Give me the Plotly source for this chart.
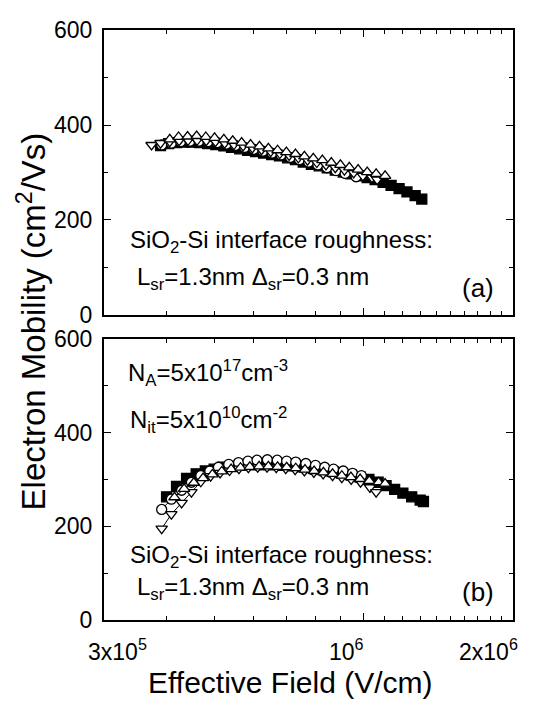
import plotly.graph_objects as go

# ---------------- data: panel (a) ----------------
a_sq_E = [3.9e5, 4.05e5, 4.2e5, 4.35e5, 4.5e5, 4.67e5, 4.85e5, 5.04e5, 5.23e5, 5.42e5, 5.63e5, 5.84e5,
          6.06e5, 6.29e5, 6.53e5, 6.77e5, 7.03e5, 7.29e5, 7.56e5, 7.85e5, 8.14e5, 8.45e5, 8.77e5, 9.10e5,
          9.44e5, 9.80e5, 1.017e6, 1.055e6, 1.095e6, 1.136e6, 1.179e6, 1.223e6, 1.27e6, 1.31e6]
a_sq_mu = [357, 361, 363, 364, 364, 363, 361, 359, 356, 353, 350, 347, 344, 341, 338, 335, 331, 327,
           322, 317, 314, 310, 305, 301, 297, 293, 289, 285, 279, 273, 266, 259, 251, 244]

a_ci_E = [3.92e5, 4.1e5, 4.28e5, 4.47e5, 4.66e5, 4.86e5, 5.07e5, 5.29e5, 5.52e5, 5.76e5, 6.01e5, 6.27e5,
          6.54e5, 6.82e5, 7.12e5, 7.43e5, 7.75e5, 8.09e5, 8.44e5, 8.80e5, 9.18e5, 9.66e5]
a_ci_mu = [358, 362, 365, 366, 366, 365, 363, 360, 357, 353, 349, 345, 341, 337, 332, 327, 322, 316,
           310, 304, 298, 291]

a_dn_E = [3.74e5, 3.9e5, 4.07e5, 4.25e5, 4.43e5, 4.62e5, 4.82e5, 5.03e5, 5.25e5, 5.48e5, 5.72e5, 5.97e5,
          6.23e5, 6.50e5, 6.78e5, 7.08e5, 7.39e5, 7.71e5, 8.05e5, 8.40e5, 8.77e5, 9.15e5, 9.55e5, 9.97e5,
          1.04e6, 1.065e6]
a_dn_mu = [358, 362, 365, 367, 368, 368, 367, 365, 362, 359, 356, 352, 348, 344, 340, 336, 331, 326,
           321, 316, 310, 305, 299, 293, 289, 285]

a_up_E = [4.07e5, 4.24e5, 4.42e5, 4.61e5, 4.81e5, 5.01e5, 5.23e5, 5.45e5, 5.68e5, 5.92e5, 6.17e5, 6.43e5,
          6.71e5, 6.99e5, 7.29e5, 7.60e5, 7.92e5, 8.26e5, 8.61e5, 8.98e5, 9.36e5, 9.75e5, 1.017e6, 1.06e6,
          1.105e6]
a_up_mu = [370, 375, 376, 377, 375, 373, 370, 367, 363, 359, 355, 351, 347, 343, 339, 334, 330, 326,
           321, 316, 311, 306, 301, 297, 293]

# ---------------- data: panel (b) ----------------
b_sq_E = [4.01e5, 4.2e5, 4.4e5, 4.6e5, 4.8e5, 5.0e5, 5.2e5, 5.45e5, 5.7e5, 5.95e5, 6.2e5, 6.5e5, 6.8e5,
          7.1e5, 7.4e5, 7.7e5, 8.0e5, 8.35e5, 8.7e5, 9.05e5, 9.45e5, 9.85e5, 1.025e6, 1.07e6, 1.11e6,
          1.155e6, 1.2e6, 1.25e6, 1.3e6, 1.32e6]
b_sq_mu = [263, 285, 302, 312, 318, 322, 326, 328, 330, 331, 331, 331, 330, 329, 327, 325, 322, 319,
           316, 313, 309, 305, 300, 294, 287, 279, 271, 263, 256, 253]

b_ci_E = [3.92e5, 4.1e5, 4.3e5, 4.5e5, 4.7e5, 4.9e5, 5.1e5, 5.35e5, 5.6e5, 5.85e5, 6.1e5, 6.4e5, 6.7e5,
          7.0e5, 7.3e5, 7.65e5, 8.0e5, 8.35e5, 8.7e5, 9.1e5, 9.5e5, 9.9e5]
b_ci_mu = [236, 258, 277, 294, 308, 318, 326, 332, 336, 339, 341, 342, 341, 339, 337, 334, 330, 326,
           322, 318, 313, 308]

b_dn_E = [3.92e5, 4.1e5, 4.3e5, 4.5e5, 4.7e5, 4.92e5, 5.14e5, 5.37e5, 5.61e5, 5.86e5, 6.12e5, 6.39e5,
          6.67e5, 6.97e5, 7.28e5, 7.6e5, 7.94e5, 8.29e5, 8.66e5, 9.04e5, 9.44e5, 9.86e5, 1.03e6, 1.06e6]
b_dn_mu = [195, 226, 250, 273, 295, 307, 314, 319, 323, 325, 326, 326, 325, 323, 321, 318, 315, 312,
           308, 304, 300, 294, 283, 273]

b_up_E = [4.16e5, 4.35e5, 4.55e5, 4.75e5, 4.96e5, 5.18e5, 5.41e5, 5.65e5, 5.9e5, 6.16e5, 6.43e5, 6.71e5,
          7.0e5, 7.3e5, 7.62e5, 7.95e5, 8.3e5, 8.66e5, 9.04e5, 9.43e5, 9.84e5, 1.027e6, 1.072e6, 1.105e6]
b_up_mu = [262, 280, 293, 303, 311, 317, 322, 325, 327, 328, 328, 327, 326, 324, 321, 318, 315, 312,
           308, 305, 301, 297, 294, 291]

x_tick_vals = [3e5, 1e6, 2e6]
x_tick_text = ["3x10<sup>5</sup>", "10<sup>6</sup>", "2x10<sup>6</sup>"]
x_minor_vals = [4e5, 5e5, 6e5, 7e5, 8e5, 9e5, 1.1e6, 1.2e6, 1.3e6, 1.4e6, 1.5e6, 1.6e6, 1.7e6, 1.8e6, 1.9e6]
y_tick_vals = [0, 200, 400, 600]
y_minor_vals = [100, 300, 500]

W, H = 545, 717
FONT = "Liberation Sans, Arial, sans-serif"

fig = go.Figure()


def add(E, mu, symbol, xa, ya, filled):
    fig.add_trace(go.Scatter(
        x=E, y=mu, mode="lines+markers", xaxis=xa, yaxis=ya, showlegend=False,
        line=dict(color="black", width=1),
        marker=dict(symbol=symbol, size=10, color="black" if filled else "white",
                    line=dict(color="black", width=1.3)),
    ))


for xa, ya, sets in [
    ("x2", "y2", [(a_sq_E, a_sq_mu, "square", True), (a_ci_E, a_ci_mu, "circle", False),
                  (a_dn_E, a_dn_mu, "triangle-down", False), (a_up_E, a_up_mu, "triangle-up", False)]),
    ("x", "y", [(b_sq_E, b_sq_mu, "square", True), (b_ci_E, b_ci_mu, "circle", False),
                (b_dn_E, b_dn_mu, "triangle-down", False), (b_up_E, b_up_mu, "triangle-up", False)]),
]:
    for E, mu, sym, filled in sets:
        add(E, mu, sym, xa, ya, filled)

xdom = [104 / W, 513 / W]
common_x = dict(
    type="log", range=[5.4771, 6.3010], domain=xdom, showgrid=False, zeroline=False,
    showline=True, linecolor="black", linewidth=2, mirror="allticks",
    ticks="inside", ticklen=7, tickwidth=1.3, tickcolor="black",
    tickmode="array", tickvals=x_tick_vals, ticktext=x_tick_text, showticklabels=False,
    minor=dict(tickmode="array", tickvals=x_minor_vals, ticks="inside", ticklen=4,
               tickwidth=1.1, tickcolor="black", showgrid=False),
)
common_y = dict(
    range=[0, 600], showgrid=False, zeroline=False,
    showline=True, linecolor="black", linewidth=2, mirror="allticks",
    ticks="inside", ticklen=7, tickwidth=1.3, tickcolor="black",
    tickmode="array", tickvals=y_tick_vals, ticktext=[str(v) for v in y_tick_vals],
    tickfont=dict(family=FONT, size=23, color="black"), ticklabelstandoff=5,
    minor=dict(tickmode="array", tickvals=y_minor_vals, ticks="inside", ticklen=4,
               tickwidth=1.1, tickcolor="black", showgrid=False),
)

fig.update_layout(
    width=W, height=H, margin=dict(l=0, r=0, t=0, b=0),
    paper_bgcolor="white", plot_bgcolor="white",
    font=dict(family=FONT, color="black"),
    xaxis=dict(anchor="y", **common_x),
    xaxis2=dict(anchor="y2", matches="x", **common_x),
    yaxis=dict(anchor="x", domain=[1 - 630 / H, 1 - 338 / H], **common_y),
    yaxis2=dict(anchor="x2", domain=[1 - 313 / H, 1 - 18 / H], **common_y),
)

ann = []


def txt(text, px, py, size=24, xanchor="left", angle=0):
    ann.append(dict(text=text, x=px / W, y=1 - py / H, xref="paper", yref="paper",
                    xanchor=xanchor, yanchor="middle", showarrow=False, textangle=angle,
                    font=dict(family=FONT, size=size, color="black")))


# x tick labels
txt(x_tick_text[0], 117, 661, 23, "center")
txt(x_tick_text[1], 346, 661, 23, "center")
txt(x_tick_text[2], 488, 661, 23, "center")
# axis titles
txt("Effective Field (V/cm)", 290, 695, 30, "center")
txt("Electron Mobility (cm<sup>2</sup>/Vs)", 32, 320, 33, "center", -90)
# panel (a)
txt("SiO<sub>2</sub>-Si interface roughness:", 128, 237, 24)
txt("L<sub>sr</sub>=1.3nm \u0394<sub>sr</sub>=0.3 nm", 135, 275, 24)
txt("(a)", 460, 285, 26)
# panel (b)
txt("N<sub>A</sub>=5x10<sup>17</sup>cm<sup>-3</sup>", 126, 374, 24)
txt("N<sub>it</sub>=5x10<sup>10</sup>cm<sup>-2</sup>", 128, 422, 24)
txt("SiO<sub>2</sub>-Si interface roughness:", 128, 564, 24)
txt("L<sub>sr</sub>=1.3nm \u0394<sub>sr</sub>=0.3 nm", 135, 597, 24)
txt("(b)", 460, 601, 26)

fig.update_layout(annotations=ann)
fig.write_html("out.html")
